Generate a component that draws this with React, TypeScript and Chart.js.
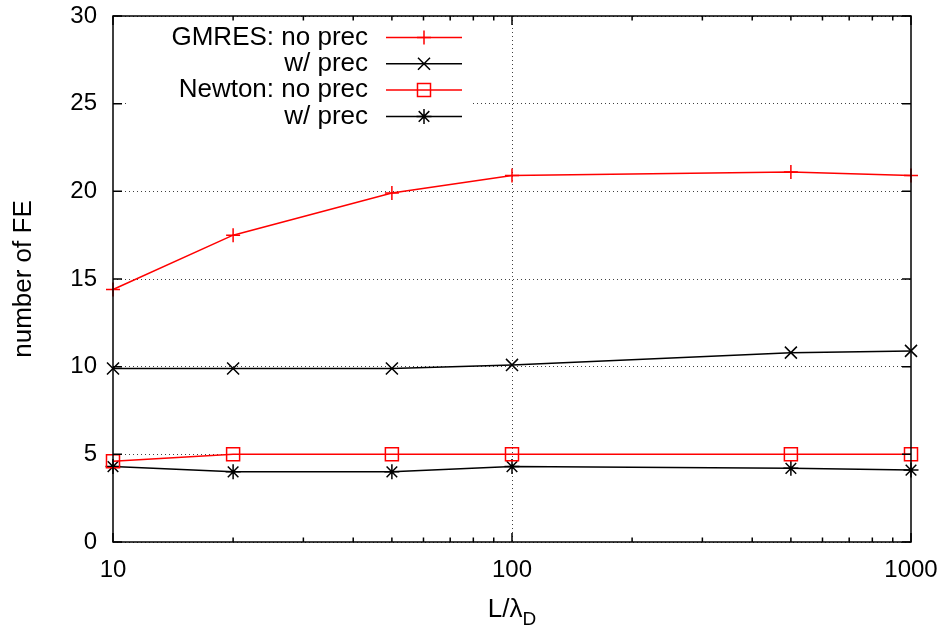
import React, { useEffect, useRef } from "react";
import { Chart, registerables } from "chart.js";
import { drawPoint } from "chart.js/helpers";

Chart.register(...registerables);

// ---- data ----
const xValues = [10, 20, 50, 100, 500, 1000];
const gmresNoPrec = [14.4, 17.5, 19.9, 20.9, 21.1, 20.9];
const gmresPrec = [9.9, 9.9, 9.9, 10.1, 10.8, 10.9];
const newtonNoPrec = [4.6, 5.0, 5.0, 5.0, 5.0, 5.0];
const newtonPrec = [4.3, 4.0, 4.0, 4.3, 4.2, 4.1];
const seriesLabels = ["GMRES: no prec", "w/ prec", "Newton: no prec", "w/ prec"];
const xTickValues = [10, 20, 30, 40, 50, 60, 70, 80, 90, 100, 200, 300, 400, 500, 600, 700, 800, 900, 1000];
const xMajorTicks = [10, 100, 1000];
const yTickValues = [0, 5, 10, 15, 20, 25, 30];
const yAxisTitle = "number of FE";
const xAxisTitleMain = "L/λ";
const xAxisTitleSub = "D";

const RED = "#ff0000";
const BLACK = "#000000";
const GRID = "rgba(0,0,0,0.75)";
const FONT = '"Liberation Sans", Arial, Helvetica, sans-serif';

const seriesStyles = [
  { color: RED, pointStyle: "cross", radius: 7 },
  { color: BLACK, pointStyle: "crossRot", radius: 8.5 },
  { color: RED, pointStyle: "rect", radius: 9.2 },
  { color: BLACK, pointStyle: "star", radius: 7.5 },
];

const frameAndLegend = {
  id: "frameAndLegend",
  afterDraw(chart: any) {
    const { ctx, chartArea, scales } = chart;
    const { left, right, top, bottom } = chartArea;
    ctx.save();

    // legend (opaque key)
    ctx.fillStyle = "#ffffff";
    ctx.fillRect(left + 15, top + 1, 344, 114);
    const textRight = 368;
    const lineX0 = 386;
    const lineX1 = 462;
    const rowY0 = 37.5;
    const rowStep = 26.3;
    ctx.font = `26px ${FONT}`;
    ctx.textAlign = "right";
    ctx.textBaseline = "middle";
    seriesLabels.forEach((label, i) => {
      const y = rowY0 + i * rowStep;
      const st = seriesStyles[i];
      ctx.fillStyle = "#000";
      ctx.fillText(label, textRight, y);
      ctx.strokeStyle = st.color;
      ctx.lineWidth = 1.5;
      ctx.beginPath();
      ctx.moveTo(lineX0, y);
      ctx.lineTo(lineX1, y);
      ctx.stroke();
      ctx.fillStyle = "rgba(0,0,0,0)";
      drawPoint(ctx, { pointStyle: st.pointStyle, radius: st.radius, borderWidth: 1.5, rotation: 0 } as any, (lineX0 + lineX1) / 2, y);
    });

    // frame
    ctx.strokeStyle = "#000";
    ctx.lineWidth = 1.5;
    ctx.strokeRect(left, top, right - left, bottom - top);

    // inward ticks, mirrored
    ctx.beginPath();
    yTickValues.forEach((v) => {
      const py = scales.y.getPixelForValue(v);
      ctx.moveTo(left, py);
      ctx.lineTo(left + 9, py);
      ctx.moveTo(right, py);
      ctx.lineTo(right - 9, py);
    });
    xTickValues.forEach((v) => {
      const px = scales.x.getPixelForValue(v);
      const len = xMajorTicks.includes(v) ? 9 : 4.5;
      ctx.moveTo(px, bottom);
      ctx.lineTo(px, bottom - len);
      ctx.moveTo(px, top);
      ctx.lineTo(px, top + len);
    });
    ctx.stroke();

    // x axis title with subscript
    ctx.fillStyle = "#000";
    ctx.textAlign = "left";
    ctx.textBaseline = "alphabetic";
    ctx.font = `26px ${FONT}`;
    const wMain = ctx.measureText(xAxisTitleMain).width;
    ctx.font = `19px ${FONT}`;
    const wSub = ctx.measureText(xAxisTitleSub).width;
    const cx = (left + right) / 2;
    const x0 = cx - (wMain + wSub) / 2;
    ctx.font = `26px ${FONT}`;
    ctx.fillText(xAxisTitleMain, x0, 617);
    ctx.font = `19px ${FONT}`;
    ctx.fillText(xAxisTitleSub, x0 + wMain, 625);

    ctx.restore();
  },
};

export default function App() {
  const ref = useRef<HTMLCanvasElement>(null);

  useEffect(() => {
    const canvas = ref.current;
    if (!canvas) return;
    const seriesValues = [gmresNoPrec, gmresPrec, newtonNoPrec, newtonPrec];
    const datasets = seriesValues.map((vals, i) => ({
      label: seriesLabels[i],
      data: xValues.map((x, j) => ({ x, y: vals[j] })),
      borderColor: seriesStyles[i].color,
      backgroundColor: "transparent",
      borderWidth: 1.5,
      pointStyle: seriesStyles[i].pointStyle,
      pointRadius: seriesStyles[i].radius,
      pointHoverRadius: seriesStyles[i].radius,
      pointBorderColor: seriesStyles[i].color,
      pointBackgroundColor: "transparent",
      pointBorderWidth: 1.5,
      tension: 0,
      clip: false as any,
    }));

    const chart = new Chart(canvas, {
      type: "line",
      data: { datasets: datasets as any },
      options: {
        responsive: false,
        animation: false,
        devicePixelRatio: 1,
        layout: { padding: { left: 0, top: 16, right: 37, bottom: 0 } },
        plugins: { legend: { display: false }, tooltip: { enabled: false } },
        scales: {
          x: {
            type: "logarithmic",
            min: 10,
            max: 1000,
            afterBuildTicks: (s: any) => {
              s.ticks = xTickValues.map((v) => ({ value: v, major: xMajorTicks.includes(v) }));
            },
            afterFit: (s: any) => {
              s.height = 85;
              s.paddingLeft = 0;
              s.paddingRight = 0;
              s.paddingTop = 0;
              s.paddingBottom = 0;
            },
            ticks: {
              autoSkip: false,
              maxRotation: 0,
              minRotation: 0,
              padding: 14,
              color: "#000",
              font: { family: FONT, size: 24 },
              callback: (v: any) => (xMajorTicks.includes(Number(v)) ? String(v) : ""),
            },
            grid: {
              drawTicks: false,
              lineWidth: 1,
              color: (c: any) => (c.tick && c.tick.value === 100 ? GRID : "transparent"),
            },
            border: { display: false, dash: [1, 3] },
          },
          y: {
            type: "linear",
            min: 0,
            max: 30,
            afterBuildTicks: (s: any) => {
              s.ticks = yTickValues.map((v) => ({ value: v }));
            },
            afterFit: (s: any) => {
              s.width = 113;
              s.paddingLeft = 0;
              s.paddingRight = 0;
              s.paddingTop = 0;
              s.paddingBottom = 0;
            },
            ticks: {
              padding: 16,
              color: "#000",
              font: { family: FONT, size: 24 },
            },
            grid: { drawTicks: false, lineWidth: 1, color: GRID },
            border: { display: false, dash: [1, 3] },
            title: {
              display: true,
              text: yAxisTitle,
              color: "#000",
              font: { family: FONT, size: 26 },
              padding: { top: 8, bottom: 0 },
            },
          },
        },
      },
      plugins: [frameAndLegend],
    });
    return () => chart.destroy();
  }, []);

  return (
    <div style={{ position: "absolute", left: 0, top: 0, width: 948, height: 627, background: "#fff" }}>
      <canvas ref={ref} width={948} height={627} style={{ display: "block" }} />
    </div>
  );
}
